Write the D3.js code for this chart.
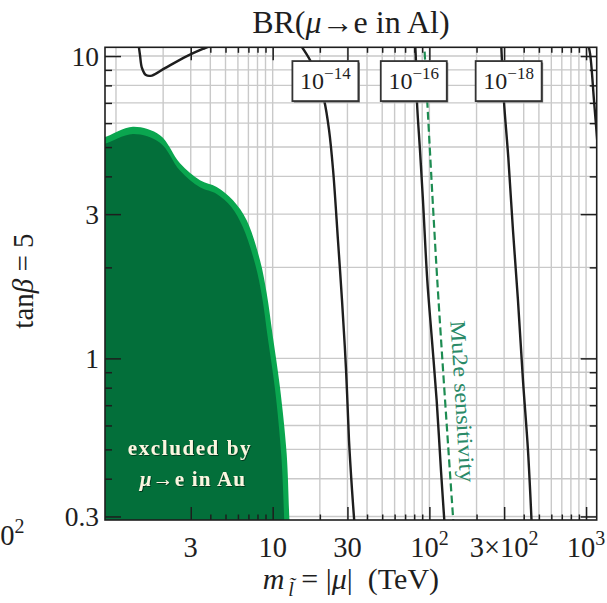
<!DOCTYPE html>
<html><head><meta charset="utf-8">
<script src="https://cdn.jsdelivr.net/npm/d3@7"></script>
<style>body{margin:0;background:#fff} svg{display:block}</style>
</head><body><svg id="c" width="607" height="603"></svg>
<script>
// ---- data ----
const xDomain = [0.851, 1169];
const yDomain = [0.292, 10.69];
const xMajorTicks = [3, 10, 30, 100, 300, 1000];
const xTickLabels = ["3", "10", "30", "10^2", "3×10^2", "10^3"];
const yMajorTicks = [0.3, 1, 3, 10];
const yTickLabels = ["0.3", "1", "3", "10"];

// excluded region by mu->e in Au (outer light band / inner dark fill)
const excludedOuter = [[0.80,5.40],[0.851,5.40],[1.284,5.834],[1.909,5.475],[2.561,4.423],[3.436,3.886],[4.391,3.692],[5.58,3.336],[6.825,2.864],[8.30,2.111],[9.16,1.641],[10.04,1.174],[11.13,0.802],[12.28,0.4845],[12.8,0.292],[12.9,0.28]];
const excludedInner = [[0.80,5.13],[0.851,5.13],[1.284,5.52],[1.909,5.17],[2.561,4.18],[3.436,3.68],[4.391,3.50],[5.45,3.17],[6.45,2.72],[7.75,2.04],[8.55,1.60],[9.35,1.15],[10.35,0.79],[11.35,0.4774],[11.85,0.292],[11.9,0.28]];

// BR contours
const contourTopLeft = [[1.382,11.3],[1.423,10.08],[1.465,9.13],[1.554,8.65],[1.697,8.62],[2.054,9.12],[2.838,10.0],[3.70,10.63],[4.28,10.96]];
const contour14 = [[14.3,11.3],[17.3,9.70],[19.5,8.33],[21.3,7.15],[22.9,5.69],[24.3,4.19],[26.1,2.459],[27.7,1.556],[29.4,0.913],[30.7,0.535],[32.1,0.366],[33.5,0.2695]];
const contour16 = [[80.9,11.3],[82.1,9.62],[83.3,7.09],[87.1,4.88],[91.0,3.336],[96.97,1.813],[103.9,1.147],[111.3,0.726],[118.6,0.4257],[125.8,0.2695]];
const contour18 = [[286.4,11.3],[290.6,9.62],[299.2,7.09],[318.8,4.63],[341.6,2.653],[367.6,1.556],[395.7,0.846],[425.9,0.496],[451.6,0.2695]];
const contourRight = [[1013,11.3],[1059,10.23],[1123,7.15],[1191,4.88]];
const mu2eLine = [[92.4,11.3],[112.3,1.813],[143.5,0.2695]];

const contourLabels = [
  {base:"10", exp:"−14", x:21.7, y:8.265},
  {base:"10", exp:"−16", x:79.5, y:8.265},
  {base:"10", exp:"−18", x:320.6, y:8.265}
];
const mu2eLabel = {text:"Mu2e sensitivity", x:163.9, y:0.7205};
const excludedLabel = {line1:"excluded by", x1:2.966, y1:0.4774, x2:3.10, y2:0.377};

// ---- layout ----
const W = 607, H = 603;
const L = 105, R = 596.7, T = 47.3, B = 520;
const serif = '"Liberation Serif","Times New Roman",serif';
const ink = "#1e1e1e";

const svg = d3.select("#c");
svg.append("rect").attr("width", W).attr("height", H).attr("fill", "#fff");

const x = d3.scaleLog().domain(xDomain).range([L, R]);
const y = d3.scaleLog().domain(yDomain).range([B, T]);

const defs = svg.append("defs");
defs.append("clipPath").attr("id", "clip")
  .append("rect").attr("x", L).attr("y", T).attr("width", R - L).attr("height", B - T);
const f = defs.append("filter").attr("id", "sh").attr("x", "-10%").attr("y", "-30%").attr("width", "130%").attr("height", "160%");
f.append("feDropShadow").attr("dx", 0.8).attr("dy", 0.8).attr("stdDeviation", 0.6).attr("flood-color", "#000").attr("flood-opacity", 0.6);

const plot = svg.append("g").attr("clip-path", "url(#clip)");

// grid
const xGrid = x.ticks().filter(v => v >= 1 && v <= 1000);
const yGrid = y.ticks();
plot.append("g").selectAll("line").data(xGrid).join("line")
  .attr("x1", d => x(d)).attr("x2", d => x(d)).attr("y1", T).attr("y2", B)
  .attr("stroke", "#c9c9c9").attr("stroke-width", 1.4);
plot.append("g").selectAll("line").data(yGrid).join("line")
  .attr("y1", d => y(d)).attr("y2", d => y(d)).attr("x1", L).attr("x2", R)
  .attr("stroke", "#c9c9c9").attr("stroke-width", 1.4);

// excluded regions
function regionPath(pts) {
  const ln = d3.line().x(d => x(d[0])).y(d => y(d[1])).curve(d3.curveCatmullRom.alpha(0.5));
  const s = ln(pts);
  return "M" + (L - 5) + "," + (B + 5) + "L" + s.slice(1) + "L" + x(pts[pts.length - 1][0]) + "," + (B + 5) + "Z";
}
plot.append("path").attr("d", regionPath(excludedOuter)).attr("fill", "#0aa64f");
plot.append("path").attr("d", regionPath(excludedInner)).attr("fill", "#036f3a");

// contours
const cl = d3.line().x(d => x(d[0])).y(d => y(d[1])).curve(d3.curveCatmullRom.alpha(0.5));
[contourTopLeft, contour14, contour16, contour18, contourRight].forEach(c => {
  plot.append("path").attr("d", cl(c)).attr("fill", "none").attr("stroke", ink).attr("stroke-width", 2.4);
});
plot.append("path").attr("d", cl(mu2eLine)).attr("fill", "none")
  .attr("stroke", "#1d8c52").attr("stroke-width", 2.2).attr("stroke-dasharray", "8,4");

// Mu2e text
svg.append("text")
  .attr("transform", `translate(${x(mu2eLabel.x)},${y(mu2eLabel.y)}) rotate(86.5)`)
  .attr("text-anchor", "middle").attr("dy", "0.35em")
  .attr("font-family", serif).attr("font-size", 22).attr("fill", "#2a8a68")
  .attr("textLength", 162).attr("lengthAdjust", "spacingAndGlyphs")
  .text(mu2eLabel.text);

// excluded text
{
  const g = svg.append("g").attr("filter", "url(#sh)").attr("font-family", serif)
    .attr("font-size", 21).attr("font-weight", "bold").attr("fill", "#fbf6e0").attr("text-anchor", "middle");
  g.append("text").attr("x", x(excludedLabel.x1)).attr("y", y(excludedLabel.y1))
    .attr("letter-spacing", 1.6).text(excludedLabel.line1);
  const t2 = g.append("text").attr("x", x(excludedLabel.x2)).attr("y", y(excludedLabel.y2)).attr("letter-spacing", 1.2);
  t2.append("tspan").attr("font-style", "italic").text("μ");
  t2.append("tspan").text("→e in Au");
}

// contour label boxes
const bw = 66, bh = 40;
contourLabels.forEach(c => {
  const cx = x(c.x), cy = y(c.y);
  svg.append("rect").attr("x", cx - bw / 2 + 1.5).attr("y", cy - bh / 2 + 1.5)
    .attr("width", bw).attr("height", bh).attr("fill", "#777");
  svg.append("rect").attr("x", cx - bw / 2).attr("y", cy - bh / 2)
    .attr("width", bw).attr("height", bh).attr("fill", "#fff")
    .attr("stroke", "#333").attr("stroke-width", 1.8);
  const t = svg.append("text").attr("x", cx).attr("y", cy + 8)
    .attr("text-anchor", "middle").attr("font-family", serif).attr("fill", ink);
  t.append("tspan").attr("font-size", 24).text(c.base);
  t.append("tspan").attr("font-size", 17).attr("dy", -10).text(c.exp);
});

// frame
svg.append("rect").attr("x", L).attr("y", T).attr("width", R - L).attr("height", B - T)
  .attr("fill", "none").attr("stroke", ink).attr("stroke-width", 1.6);

// ticks
const xMinor = x.ticks().filter(v => v > 3.5 && v < 1000 && !xMajorTicks.includes(v));
const yMinor = y.ticks().filter(v => !yMajorTicks.some(m => Math.abs(m - v) < 1e-9));
function axisG(axis) {
  const g = svg.append("g").call(axis);
  g.select(".domain").remove();
  g.selectAll("line").attr("stroke", ink).attr("stroke-width", 1.5);
  g.selectAll("text").remove();
  return g;
}
axisG(d3.axisBottom(x).tickValues(xMajorTicks).tickSize(-13).tickFormat("")).attr("transform", `translate(0,${B})`);
axisG(d3.axisBottom(x).tickValues(xMinor).tickSize(-5.5).tickFormat("")).attr("transform", `translate(0,${B})`);
axisG(d3.axisTop(x).tickValues(xMajorTicks).tickSize(-13).tickFormat("")).attr("transform", `translate(0,${T})`);
axisG(d3.axisTop(x).tickValues(xMinor).tickSize(-5.5).tickFormat("")).attr("transform", `translate(0,${T})`);
axisG(d3.axisLeft(y).tickValues(yMajorTicks).tickSize(-16).tickFormat("")).attr("transform", `translate(${L},0)`);
axisG(d3.axisLeft(y).tickValues(yMinor).tickSize(-7).tickFormat("")).attr("transform", `translate(${L},0)`);
axisG(d3.axisRight(y).tickValues(yMajorTicks).tickSize(-16).tickFormat("")).attr("transform", `translate(${R},0)`);
axisG(d3.axisRight(y).tickValues(yMinor).tickSize(-7).tickFormat("")).attr("transform", `translate(${R},0)`);

// tick labels
function supText(sel, label, fs, sfs, raise) {
  const parts = label.split("^");
  sel.append("tspan").attr("font-size", fs).text(parts[0]);
  if (parts[1]) sel.append("tspan").attr("font-size", sfs).attr("dy", -raise).text(parts[1]);
}
xMajorTicks.forEach((v, i) => {
  const t = svg.append("text").attr("x", x(v)).attr("y", 557)
    .attr("text-anchor", "middle").attr("font-family", serif).attr("fill", ink);
  supText(t, xTickLabels[i], 28.5, 20, 12);
});
yMajorTicks.forEach((v, i) => {
  svg.append("text").attr("x", 99).attr("y", y(v) + 9.5)
    .attr("text-anchor", "end").attr("font-family", serif).attr("font-size", 27.5)
    .attr("fill", ink).text(yTickLabels[i]);
});

// neighbouring panel's cut-off label
{
  const t = svg.append("text").attr("x", -14).attr("y", 545)
    .attr("font-family", serif).attr("fill", ink);
  supText(t, "10^2", 28.5, 20, 12);
}

// title
{
  const t = svg.append("text").attr("x", (L + R) / 2).attr("y", 33)
    .attr("text-anchor", "middle").attr("font-family", serif).attr("font-size", 32).attr("fill", ink);
  t.append("tspan").text("BR(");
  t.append("tspan").attr("font-style", "italic").text("μ");
  t.append("tspan").text("→e in  Al)");
}

// x axis title
{
  const t = svg.append("text").attr("x", (L + R) / 2).attr("y", 589)
    .attr("text-anchor", "middle").attr("font-family", serif).attr("font-size", 30).attr("fill", ink)
    .attr("xml:space", "preserve");
  t.append("tspan").attr("font-style", "italic").text("m");
  t.append("tspan").attr("font-style", "italic").attr("font-size", 20).attr("dx", 4).attr("dy", 7).text("l\u0303");
  t.append("tspan").attr("dy", -7).text(" = |");
  t.append("tspan").attr("font-style", "italic").text("μ");
  t.append("tspan").text("|  (TeV)");
}

// y axis title
{
  const t = svg.append("text").attr("transform", "translate(33,281) rotate(-90)")
    .attr("text-anchor", "middle").attr("font-family", serif).attr("font-size", 29).attr("fill", ink);
  t.append("tspan").text("tan");
  t.append("tspan").attr("font-style", "italic").text("β");
  t.append("tspan").text(" = 5");
}
</script></body></html>
